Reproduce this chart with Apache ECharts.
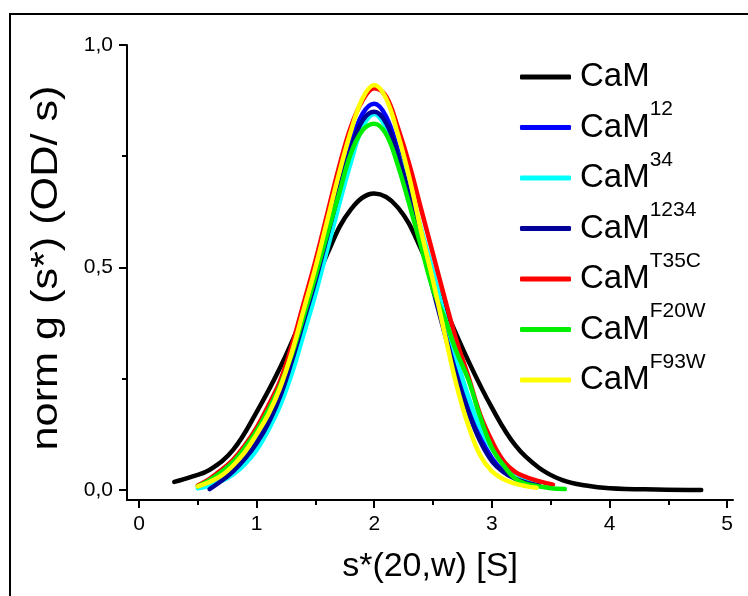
<!DOCTYPE html>
<html>
<head>
<meta charset="utf-8">
<script src="https://cdn.jsdelivr.net/npm/echarts@6/dist/echarts.min.js"></script>
<style>
  html, body { margin: 0; padding: 0; background: #fff; }
  #chart { width: 748px; height: 596px; }
</style>
</head>
<body>
<div id="chart"></div>
<script>
// Sedimentation coefficient distributions, s*(20,w) in S vs normalised g(s*)
const seriesBase = 'CaM';
const seriesSup = ['', '12', '34', '1234', 'T35C', 'F20W', 'F93W'];
const seriesColors = ['#000000', '#0000ff', '#00ffff', '#000099', '#ff0000', '#00ee00', '#ffff00'];

// [s*, g(s*)] pairs for each construct
const camWT = [
  [0.30, 0.018], [0.45, 0.030], [0.60, 0.045], [0.80, 0.090], [1.00, 0.175],
  [1.20, 0.275], [1.40, 0.395], [1.60, 0.530], [1.80, 0.630], [2.00, 0.666],
  [2.20, 0.635], [2.40, 0.540], [2.60, 0.410], [2.80, 0.290], [3.00, 0.185],
  [3.20, 0.100], [3.40, 0.050], [3.60, 0.022], [3.80, 0.010], [4.00, 0.004],
  [4.40, 0.001], [4.78, 0.000]
];
const cam12 = [
  [0.55, 0.008], [0.60, 0.012], [0.70, 0.025], [0.80, 0.045], [0.90, 0.072],
  [1.00, 0.108], [1.10, 0.155], [1.20, 0.215], [1.30, 0.295], [1.40, 0.385],
  [1.50, 0.475], [1.60, 0.575], [1.70, 0.675], [1.80, 0.775], [1.90, 0.845],
  [2.00, 0.868], [2.10, 0.840], [2.20, 0.765], [2.30, 0.675], [2.40, 0.570],
  [2.50, 0.470], [2.60, 0.370], [2.70, 0.275], [2.80, 0.190], [2.90, 0.120],
  [3.00, 0.072], [3.10, 0.042], [3.20, 0.025], [3.30, 0.015], [3.40, 0.010]
];
const cam34 = [
  [0.50, 0.004], [0.60, 0.010], [0.70, 0.020], [0.80, 0.035], [0.90, 0.058],
  [1.00, 0.090], [1.10, 0.135], [1.20, 0.190], [1.30, 0.262], [1.40, 0.350],
  [1.50, 0.440], [1.60, 0.540], [1.70, 0.640], [1.80, 0.735], [1.90, 0.815],
  [2.00, 0.845], [2.10, 0.815], [2.20, 0.755], [2.30, 0.680], [2.40, 0.585],
  [2.50, 0.490], [2.60, 0.390], [2.70, 0.295], [2.80, 0.210], [2.90, 0.140],
  [3.00, 0.092], [3.10, 0.060], [3.20, 0.038], [3.30, 0.025], [3.38, 0.018]
];
const cam1234 = [
  [0.60, 0.002], [0.70, 0.020], [0.80, 0.042], [0.90, 0.070], [1.00, 0.105],
  [1.10, 0.150], [1.20, 0.210], [1.30, 0.290], [1.40, 0.380], [1.50, 0.470],
  [1.60, 0.570], [1.70, 0.670], [1.80, 0.765], [1.90, 0.830], [2.00, 0.850],
  [2.10, 0.825], [2.20, 0.755], [2.30, 0.660], [2.40, 0.555], [2.50, 0.450],
  [2.60, 0.350], [2.70, 0.255], [2.80, 0.175], [2.90, 0.110], [3.00, 0.065],
  [3.10, 0.040], [3.20, 0.025], [3.30, 0.016], [3.40, 0.010]
];
const camT35C = [
  [0.50, 0.010], [0.60, 0.025], [0.70, 0.045], [0.80, 0.068], [0.90, 0.100],
  [1.00, 0.140], [1.10, 0.190], [1.20, 0.245], [1.30, 0.325], [1.40, 0.420],
  [1.50, 0.515], [1.60, 0.620], [1.70, 0.725], [1.80, 0.815], [1.90, 0.875],
  [2.00, 0.903], [2.10, 0.885], [2.20, 0.815], [2.30, 0.730], [2.40, 0.630],
  [2.50, 0.530], [2.60, 0.430], [2.70, 0.335], [2.80, 0.255], [2.90, 0.170],
  [3.00, 0.110], [3.10, 0.065], [3.20, 0.040], [3.30, 0.028], [3.40, 0.020],
  [3.52, 0.012]
];
const camF20W = [
  [0.50, 0.008], [0.60, 0.022], [0.70, 0.040], [0.80, 0.063], [0.90, 0.095],
  [1.00, 0.133], [1.10, 0.180], [1.20, 0.235], [1.30, 0.305], [1.40, 0.390],
  [1.50, 0.480], [1.60, 0.575], [1.70, 0.665], [1.80, 0.755], [1.90, 0.808],
  [2.00, 0.823], [2.10, 0.800], [2.20, 0.730], [2.30, 0.640], [2.40, 0.545],
  [2.50, 0.450], [2.60, 0.385], [2.70, 0.310], [2.80, 0.248], [2.90, 0.165],
  [3.00, 0.095], [3.10, 0.055], [3.20, 0.025], [3.30, 0.013], [3.40, 0.008],
  [3.50, 0.004], [3.62, 0.002]
];
const camF93W = [
  [0.50, 0.008], [0.60, 0.018], [0.70, 0.032], [0.80, 0.055], [0.90, 0.085],
  [1.00, 0.125], [1.10, 0.170], [1.20, 0.230], [1.30, 0.310], [1.40, 0.405],
  [1.50, 0.500], [1.60, 0.605], [1.70, 0.710], [1.80, 0.805], [1.90, 0.880],
  [2.00, 0.910], [2.10, 0.880], [2.20, 0.800], [2.30, 0.700], [2.40, 0.580],
  [2.50, 0.470], [2.60, 0.350], [2.70, 0.235], [2.80, 0.145], [2.90, 0.078],
  [3.00, 0.042], [3.10, 0.024], [3.20, 0.014], [3.30, 0.008], [3.38, 0.005]
];
const seriesData = [camWT, cam12, cam34, cam1234, camT35C, camF20W, camF93W];

// Axis ticks and labels
const xMajorTicks = [0, 1, 2, 3, 4, 5];
const xMinorTicks = [0.5, 1.5, 2.5, 3.5, 4.5];
const yMajorTicks = [0, 0.5, 1];
const yMinorTicks = [0.25, 0.75];
const yTickLabels = ['0,0', '0,5', '1,0'];
const xTitle = 's*(20,w) [S]';
const yTitle = 'norm g (s*) (OD/ s)';

const FONT = '"Liberation Sans", Arial, sans-serif';
const X_MIN = -0.102, X_MAX = 5.05, Y_MIN = -0.0226, Y_MAX = 1.0;

const seriesNames = seriesSup.map(s => seriesBase + s);

const chart = echarts.init(document.getElementById('chart'), null, { renderer: 'canvas' });

const axisLineStyle = { color: '#000', width: 2 };

const option = {
  backgroundColor: '#fff',
  animation: false,
  graphic: [{
    // outer frame
    type: 'rect',
    shape: { x: 10, y: 14, width: 760, height: 620 },
    style: { fill: 'none', stroke: '#000', lineWidth: 2 },
    silent: true
  }, {
    // y-axis title, widened along its reading direction
    type: 'text',
    x: 47,
    y: 268,
    rotation: Math.PI / 2,
    scaleX: 1.2,
    style: {
      text: yTitle,
      font: '36px "Liberation Sans", Arial, sans-serif',
      fill: '#000',
      align: 'center',
      verticalAlign: 'middle'
    },
    silent: true
  }],
  grid: { left: 127, right: 15, top: 45, bottom: 96 },
  legend: {
    orient: 'vertical',
    left: 520,
    top: 48.5,
    padding: 0,
    itemWidth: 51,
    itemHeight: 5,
    itemGap: -6.5,
    icon: 'roundRect',
    selectedMode: false,
    data: seriesNames,
    formatter: name => {
      const i = seriesNames.indexOf(name);
      return '{m|' + seriesBase + '}{s|' + (seriesSup[i] || ' ') + '}';
    },
    textStyle: {
      color: '#000',
      fontFamily: FONT,
      rich: {
        m: { fontSize: 33, lineHeight: 36, fontFamily: FONT, color: '#000', padding: [0, 0, 0, 4], verticalAlign: 'middle' },
        s: { fontSize: 21, lineHeight: 21, fontFamily: FONT, color: '#000', padding: [0, 0, 36, 0], verticalAlign: 'middle' }
      }
    }
  },
  xAxis: [{
    type: 'value',
    min: X_MIN,
    max: X_MAX,
    position: 'bottom',
    name: xTitle,
    nameLocation: 'middle',
    nameGap: 50,
    nameTextStyle: { fontFamily: FONT, fontSize: 34, color: '#000' },
    axisLine: { show: true, onZero: false, lineStyle: axisLineStyle },
    axisTick: { show: true, inside: false, length: 8, lineStyle: { color: '#000', width: 2 }, customValues: xMajorTicks },
    axisLabel: {
      show: true, margin: 14, fontFamily: FONT, fontSize: 21, color: '#000',
      customValues: xMajorTicks,
      formatter: v => String(v)
    },
    splitLine: { show: false }
  }, {
    type: 'value',
    min: X_MIN,
    max: X_MAX,
    position: 'bottom',
    axisLine: { show: false, onZero: false },
    axisTick: { show: true, inside: false, length: 5, lineStyle: { color: '#000', width: 2 }, customValues: xMinorTicks },
    axisLabel: { show: false },
    splitLine: { show: false }
  }],
  yAxis: [{
    type: 'value',
    min: Y_MIN,
    max: Y_MAX,
    position: 'left',
    axisLine: { show: true, onZero: false, lineStyle: axisLineStyle },
    axisTick: { show: true, inside: false, length: 8, lineStyle: { color: '#000', width: 2 }, customValues: yMajorTicks },
    axisLabel: {
      show: true, margin: 14, fontFamily: FONT, fontSize: 21, color: '#000',
      customValues: yMajorTicks,
      formatter: v => yTickLabels[yMajorTicks.indexOf(v)] ?? ''
    },
    splitLine: { show: false }
  }, {
    type: 'value',
    min: Y_MIN,
    max: Y_MAX,
    position: 'left',
    axisLine: { show: false, onZero: false },
    axisTick: { show: true, inside: false, length: 5, lineStyle: { color: '#000', width: 2 }, customValues: yMinorTicks },
    axisLabel: { show: false },
    splitLine: { show: false }
  }],
  series: seriesData.map((d, i) => ({
    name: seriesNames[i],
    type: 'line',
    xAxisIndex: 0,
    yAxisIndex: 0,
    data: d,
    smooth: 0.4,
    symbol: 'none',
    color: seriesColors[i],
    lineStyle: { color: seriesColors[i], width: 4.5, cap: 'round', join: 'round' },
    itemStyle: { color: seriesColors[i] },
    z: 2 + i
  }))
};

chart.setOption(option);
</script>
</body>
</html>
